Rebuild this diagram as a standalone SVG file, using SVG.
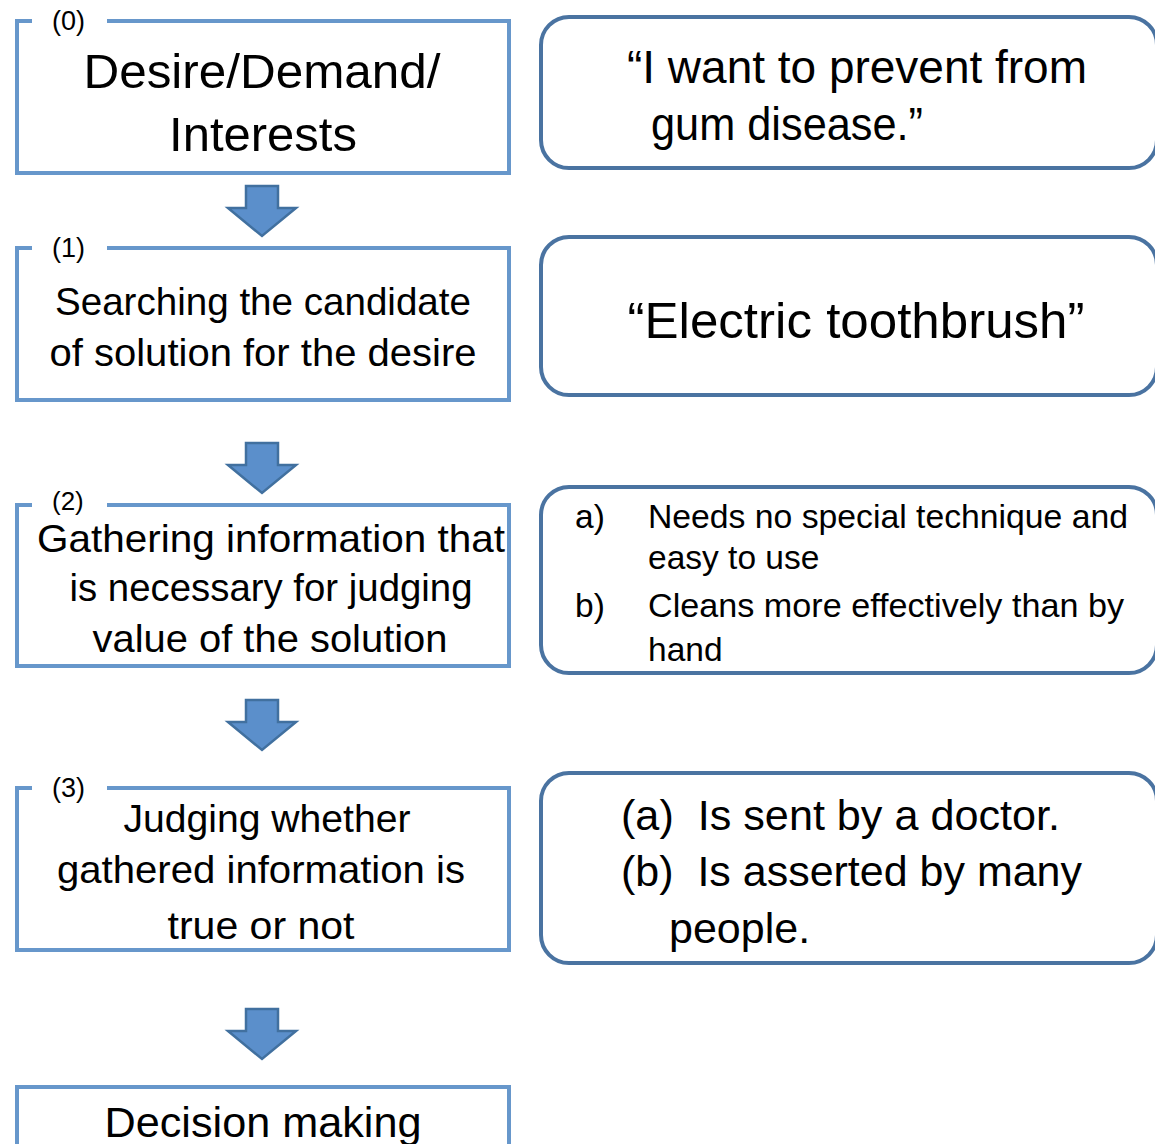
<svg xmlns="http://www.w3.org/2000/svg" width="1155" height="1144" viewBox="0 0 1155 1144">
<style>
.lbox{fill:#fff;stroke:#6797cb;stroke-width:4;}
.lframe{fill:none;stroke:#6797cb;stroke-width:4;}
.rbox{fill:#fff;stroke:#4a73a1;stroke-width:4;}
.arrow{fill:#5b8fcb;stroke:#41709f;stroke-width:2.5;stroke-linejoin:miter;}
text{font-family:"Liberation Sans",Arial,sans-serif;fill:#000;}
.big{font-size:49px;text-anchor:middle;}
.mid{font-size:39.5px;text-anchor:middle;}
.lab{font-size:27px;}
.q{font-size:46px;}
.list{font-size:33.5px;}
.ab{font-size:43px;}
</style>
<defs>
<path id="arr" d="M246,186 H278 V208 H296 L262,236 L228,208 H246 Z"/>
</defs>
<rect width="1155" height="1144" fill="#fff"/>

<g id="connectors">
<use href="#arr" class="arrow"/>
<use href="#arr" class="arrow" transform="translate(0,257)"/>
<use href="#arr" class="arrow" transform="translate(0,514)"/>
<use href="#arr" class="arrow" transform="translate(0,823)"/>
</g>

<g id="step0">
<path class="lframe" d="M32,21 H17 V173 H509 V21 H107"/>
<text class="lab" x="52" y="30">(0)</text>
<text class="big" x="262" y="88" textLength="357" lengthAdjust="spacingAndGlyphs">Desire/Demand/</text>
<text class="big" x="263" y="151">Interests</text>
</g>

<g id="step1">
<path class="lframe" d="M32,248 H17 V400 H509 V248 H107"/>
<text class="lab" x="52" y="257">(1)</text>
<text class="mid" x="263" y="315" textLength="416" lengthAdjust="spacingAndGlyphs">Searching the candidate</text>
<text class="mid" x="263" y="366" textLength="427" lengthAdjust="spacingAndGlyphs">of solution for the desire</text>
</g>

<g id="step2">
<path class="lframe" d="M32,505 H17 V666 H509 V505 H107"/>
<text class="lab" x="52" y="510" style="font-size:26px">(2)</text>
<text class="mid" x="271" y="552" textLength="468" lengthAdjust="spacingAndGlyphs">Gathering information that</text>
<text class="mid" x="271" y="601" textLength="403" lengthAdjust="spacingAndGlyphs">is necessary for judging</text>
<text class="mid" x="270" y="652" textLength="355" lengthAdjust="spacingAndGlyphs">value of the solution</text>
</g>

<g id="step3">
<path class="lframe" d="M32,788 H17 V950 H509 V788 H107"/>
<text class="lab" x="52" y="797">(3)</text>
<text class="mid" x="267" y="832" textLength="287" lengthAdjust="spacingAndGlyphs">Judging whether</text>
<text class="mid" x="261" y="883" textLength="408" lengthAdjust="spacingAndGlyphs">gathered information is</text>
<text class="mid" x="261" y="939" textLength="187" lengthAdjust="spacingAndGlyphs">true or not</text>
</g>

<g id="step4">
<rect class="lbox" x="17" y="1087" width="492" height="80"/>
<text x="263" y="1137" style="font-size:43px;text-anchor:middle" textLength="317" lengthAdjust="spacingAndGlyphs">Decision making</text>
</g>

<g id="example0">
<rect class="rbox" x="541" y="17" width="616" height="151" rx="28"/>
<text class="q" x="627" y="83" textLength="460" lengthAdjust="spacingAndGlyphs">“I want to prevent from</text>
<text class="q" x="651" y="140" textLength="272" lengthAdjust="spacingAndGlyphs">gum disease.”</text>
</g>

<g id="example1">
<rect class="rbox" x="541" y="237" width="616" height="158" rx="28"/>
<text x="856" y="338" style="font-size:50px;text-anchor:middle" textLength="457" lengthAdjust="spacingAndGlyphs">“Electric toothbrush”</text>
</g>

<g id="example2">
<rect class="rbox" x="541" y="487" width="616" height="186" rx="28"/>
<text class="list" x="575" y="528">a)</text>
<text class="list" x="648" y="528" textLength="480" lengthAdjust="spacingAndGlyphs">Needs no special technique and</text>
<text class="list" x="648" y="569">easy to use</text>
<text class="list" x="575" y="617">b)</text>
<text class="list" x="648" y="617" textLength="476" lengthAdjust="spacingAndGlyphs">Cleans more effectively than by</text>
<text class="list" x="648" y="661">hand</text>
</g>

<g id="example3">
<rect class="rbox" x="541" y="773" width="616" height="190" rx="28"/>
<text class="ab" x="621" y="830" xml:space="preserve" textLength="439" lengthAdjust="spacingAndGlyphs">(a)  Is sent by a doctor.</text>
<text class="ab" x="621" y="886" xml:space="preserve" textLength="461" lengthAdjust="spacingAndGlyphs">(b)  Is asserted by many</text>
<text class="ab" x="669" y="943">people.</text>
</g>
</svg>
